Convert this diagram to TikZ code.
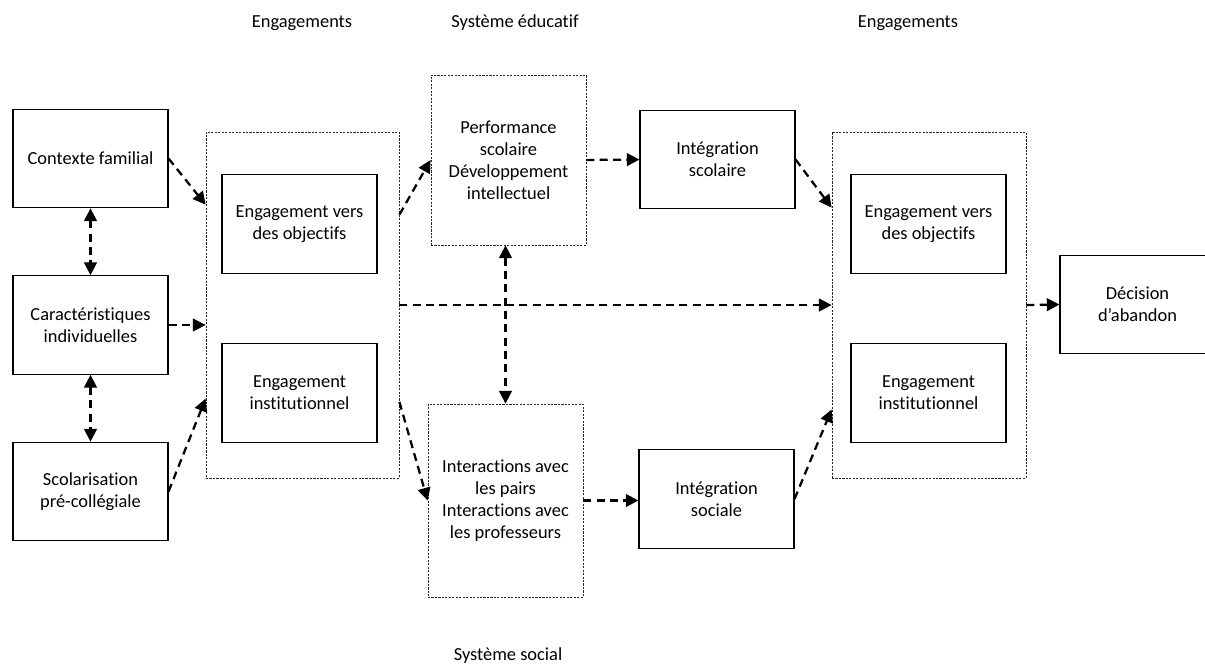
\documentclass[tikz,border=0pt]{standalone}
\usepackage{fontspec}
\setmainfont[Ligatures=NoCommon]{Carlito}
\usetikzlibrary{arrows.meta}

\begin{document}
\begin{tikzpicture}[
    x=0.75pt, y=-0.75pt,
    every node/.style = {align=center, font=\fontsize{13.8}{16.6}\selectfont},
    box/.style = {draw=black, line width=0.8pt, minimum width=116.25pt, minimum height=74pt, inner sep=0pt},
    group/.style = {draw=black!85, line width=0.6pt, dash pattern=on 1.6pt off 1pt, inner sep=0pt},
    link/.style = {line width=1.7pt, dash pattern=on 6pt off 4pt, -{Triangle[length=9.5pt, width=9.5pt]}},
    dlink/.style = {link, {Triangle[length=9.5pt, width=9.5pt]}-{Triangle[length=9.5pt, width=9.5pt]}}
    ]
    \useasboundingbox (0,0) rectangle (1205,667);

    % titres
    \node (tEngL) at (302,23) {Engagements};
    \node (tEdu) at (515,23) {Système éducatif};
    \node (tEngR) at (908,23) {Engagements};
    \node (tSoc) at (508,656) {Système social};

    % colonne de gauche
    \node[box] (fam) at (90.5,158.5) {Contexte familial};
    \node[box] (ind) at (90.5,325) {Caractéristiques\\individuelles};
    \node[box] (sco) at (90.5,491.5) {Scolarisation\\pré-collégiale};

    % engagements (entree)
    \node[group, minimum width=144.75pt, minimum height=259.5pt] (engL) at (302.5,305) {};
    \node[box] (objL) at (299.5,224) {Engagement vers\\des objectifs};
    \node[box] (instL) at (299.5,393) {Engagement\\institutionnel};

    % systemes
    \node[group, minimum width=116.25pt, minimum height=127.5pt] (perf) at (508.5,160)
        {Performance\\scolaire\\Développement\\intellectuel};
    \node[group, minimum width=116.25pt, minimum height=144.75pt] (inter) at (505.5,500.5)
        {Interactions avec\\les pairs\\Interactions avec\\les professeurs};
    \node[box] (intSco) at (717.5,159.5) {Intégration\\scolaire};
    \node[box] (intSoc) at (716.5,499) {Intégration\\sociale};

    % engagements (sortie)
    \node[group, minimum width=145.5pt, minimum height=259.5pt] (engR) at (929,305) {};
    \node[box] (objR) at (928.5,224) {Engagement vers\\des objectifs};
    \node[box] (instR) at (928.5,393) {Engagement\\institutionnel};
    \node[box] (dec) at (1137.5,304.5) {Décision\\d’abandon};

    \draw[dlink] (fam) -- (ind);
    \draw[dlink] (ind) -- (sco);
    \draw[link] (fam.east) -- (engL.134);
    \draw[link] (ind.east) -- (ind.east -| engL.west);
    \draw[link] (sco.east) -- (engL.224);
    \draw[link] (engL.43) -- (perf.west);
    \draw[link] (engL.-45) -- (inter.west);
    \draw[dlink] (inter.north |- perf.south) -- (inter.north);
    \draw[link] (perf.east) -- (intSco.west);
    \draw[link] (inter.east) -- (inter.east -| intSoc.west);
    \draw[link] (engL.east) -- (engR.west);
    \draw[link] (intSco.east) -- (engR.135);
    \draw[link] (intSoc.east) -- (engR.227);
    \draw[link] (engR.east) -- (dec.west);
\end{tikzpicture}
\end{document}
